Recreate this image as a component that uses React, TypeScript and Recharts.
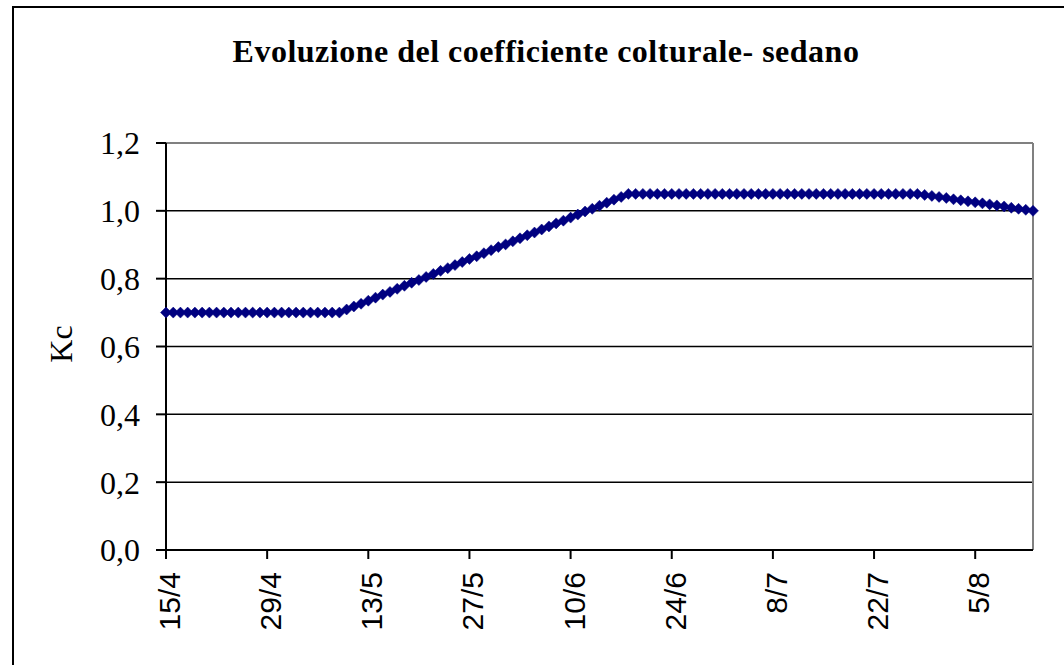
import { CartesianGrid, Line, LineChart, ReferenceLine, XAxis, YAxis } from "recharts";

// Kc giornaliero dal 15/4 (giorno 0) al 13/8 (giorno 120)
const kcInitial = [
  0.7, 0.7, 0.7, 0.7, 0.7, 0.7, 0.7, 0.7, 0.7, 0.7, 0.7, 0.7, 0.7, 0.7, 0.7, 0.7, 0.7, 0.7, 0.7, 0.7,
  0.7, 0.7, 0.7, 0.7, 0.7,
];
const kcDevelopment = [
  0.709, 0.718, 0.726, 0.735, 0.744, 0.753, 0.761, 0.77, 0.779, 0.788, 0.796, 0.805, 0.814, 0.823,
  0.831, 0.84, 0.849, 0.858, 0.866, 0.875, 0.884, 0.893, 0.901, 0.91, 0.919, 0.928, 0.936, 0.945,
  0.954, 0.963, 0.971, 0.98, 0.989, 0.998, 1.006, 1.015, 1.024, 1.033, 1.041, 1.05,
];
const kcMid = [
  1.05, 1.05, 1.05, 1.05, 1.05, 1.05, 1.05, 1.05, 1.05, 1.05, 1.05, 1.05, 1.05, 1.05, 1.05, 1.05,
  1.05, 1.05, 1.05, 1.05, 1.05, 1.05, 1.05, 1.05, 1.05, 1.05, 1.05, 1.05, 1.05, 1.05, 1.05, 1.05,
  1.05, 1.05, 1.05, 1.05, 1.05, 1.05, 1.05, 1.05,
];
const kcLate = [
  1.047, 1.044, 1.041, 1.038, 1.034, 1.031, 1.028, 1.025, 1.022, 1.019, 1.016, 1.013, 1.009, 1.006,
  1.003, 1.0,
];

const tickDays = [0, 14, 28, 42, 56, 70, 84, 98, 112];
const tickLabels = ["15/4", "29/4", "13/5", "27/5", "10/6", "24/6", "8/7", "22/7", "5/8"];
const yTicks = [0, 0.2, 0.4, 0.6, 0.8, 1.0, 1.2];

const data = [...kcInitial, ...kcDevelopment, ...kcMid, ...kcLate].map((kc, day) => ({ day, kc }));

const NAVY = "#000080";
const serif = "'Liberation Serif', 'Times New Roman', serif";
const sans = "'Liberation Sans', Arial, sans-serif";

function DateTick({ x, y, payload }: any) {
  const i = tickDays.indexOf(payload.value);
  return (
    <text
      x={x}
      y={y}
      dy={14}
      transform={`rotate(-90 ${x} ${y})`}
      textAnchor="end"
      fontFamily={sans}
      fontSize={30}
      fill="#000"
    >
      {i >= 0 ? tickLabels[i] : ""}
    </text>
  );
}

function Diamond({ cx, cy, index }: any) {
  const s = 5.5;
  return (
    <path
      key={index}
      d={`M${cx},${cy - s} L${cx + s},${cy} L${cx},${cy + s} L${cx - s},${cy} Z`}
      fill={NAVY}
      stroke={NAVY}
      strokeWidth={0.5}
    />
  );
}

export default function App() {
  return (
    <div
      style={{
        position: "absolute",
        left: 0,
        top: 0,
        width: 1064,
        height: 665,
        overflow: "hidden",
        background: "#fff",
      }}
    >
      <div
        style={{
          position: "absolute",
          left: 12,
          top: 6,
          width: 1200,
          height: 800,
          borderLeft: "2px solid #000",
          borderTop: "2px solid #000",
        }}
      />
      <div
        style={{
          position: "absolute",
          left: 0,
          width: 1092,
          top: 34,
          textAlign: "center",
          fontFamily: serif,
          fontWeight: "bold",
          fontSize: 32,
          letterSpacing: 0.5,
          lineHeight: "34px",
        }}
      >
        Evoluzione del coefficiente colturale- sedano
      </div>
      <svg style={{ position: "absolute", left: 0, top: 0 }} width={120} height={665}>
        <text
          x={72}
          y={344}
          transform="rotate(-90 72 344)"
          textAnchor="middle"
          fontFamily={serif}
          fontSize={32}
          fill="#000"
        >
          Kc
        </text>
      </svg>
      <div style={{ position: "absolute", left: 0, top: 0 }}>
        <LineChart width={1064} height={665} data={data} margin={{ top: 143, right: 31, left: 0, bottom: 0 }}>
          <CartesianGrid
            horizontal
            vertical={false}
            stroke="#000"
            strokeWidth={1.5}
            horizontalValues={[0.2, 0.4, 0.6, 0.8, 1.0]}
          />
          <ReferenceLine y={1.2} stroke="#808080" strokeWidth={2} />
          <ReferenceLine x={120} stroke="#808080" strokeWidth={2} />
          <XAxis
            dataKey="day"
            type="number"
            domain={[0, 120]}
            ticks={tickDays}
            interval={0}
            height={115}
            tickSize={9}
            tickMargin={13}
            tick={<DateTick />}
            axisLine={{ stroke: "#000", strokeWidth: 2 }}
            tickLine={{ stroke: "#000", strokeWidth: 2 }}
          />
          <YAxis
            type="number"
            domain={[0, 1.2]}
            ticks={yTicks}
            interval={0}
            width={166}
            tickSize={10}
            tickMargin={16}
            tickFormatter={(v: number) => v.toFixed(1).replace(".", ",")}
            tick={{ fill: "#000", fontFamily: serif, fontSize: 32 }}
            axisLine={{ stroke: "#000", strokeWidth: 2 }}
            tickLine={{ stroke: "#000", strokeWidth: 2 }}
          />
          <Line
            type="linear"
            dataKey="kc"
            stroke={NAVY}
            strokeWidth={2.5}
            dot={<Diamond />}
            activeDot={false}
            isAnimationActive={false}
          />
        </LineChart>
      </div>
    </div>
  );
}
